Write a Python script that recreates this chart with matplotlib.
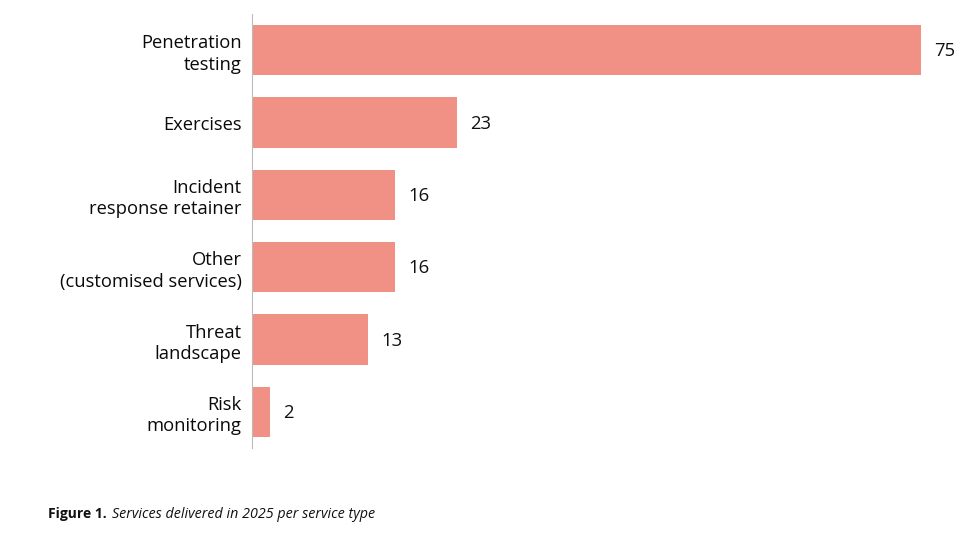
import matplotlib
matplotlib.use("Agg")
import matplotlib.pyplot as plt

categories = ["Penetration\ntesting", "Exercises", "Incident\nresponse retainer",
              "Other\n(customised services)", "Threat\nlandscape", "Risk\nmonitoring"]
values = [75, 23, 16, 16, 13, 2]

plt.rcParams['font.family'] = ['Open Sans', 'DejaVu Sans']

fig = plt.figure(figsize=(9.74, 5.38), dpi=100)
ax = fig.add_axes([252/974, 1 - 448/538, (965.6 - 252)/974, (448 - 14)/538])

ypos = list(range(len(categories)))
ax.barh(ypos, values, height=0.7, color="#F19186", edgecolor="none")
for y, v in zip(ypos, values):
    ax.text(v + 1.5, y + 0.015, str(v), va="center", ha="left", fontsize=13.3, color="#111111")

ax.set_xlim(0, 80)
ax.set_ylim(5.5, -0.5)
ax.set_yticks(ypos)
ax.set_yticklabels(categories, fontsize=13.2, color="#0a0a0a", linespacing=1.25)
ax.tick_params(axis="y", length=0, pad=7.5)
ax.set_xticks([])
for s in ["top", "right", "bottom"]:
    ax.spines[s].set_visible(False)
ax.spines["left"].set_color("#bbbbbb")
ax.spines["left"].set_linewidth(0.8)
for lbl in ax.get_yticklabels():
    lbl.set_horizontalalignment("right")
    lbl.set_multialignment("right")

t1 = fig.text(48/974, 1 - 514/538, "Figure 1.", fontsize=10, fontweight="bold",
              va="center", ha="left", color="#111111")
fig.canvas.draw()
bb = t1.get_window_extent()
fig.text((bb.x1 + 5)/974, 1 - 514/538, "Services delivered in 2025 per service type",
         fontsize=10.3, style="italic", va="center", ha="left", color="#111111")

fig.savefig("out.png", dpi=100)
